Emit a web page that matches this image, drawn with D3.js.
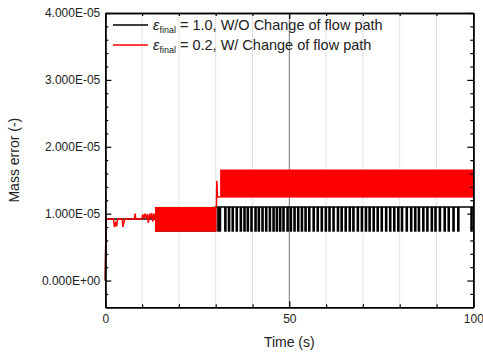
<!DOCTYPE html>
<html>
<head>
<meta charset="utf-8">
<script src="https://cdn.jsdelivr.net/npm/d3@7"></script>
<style>
  body { margin: 0; background: #fff; }
  svg text { font-family: "Liberation Sans", Arial, sans-serif; fill: #222; }
</style>
</head>
<body>
<svg id="chart" width="483" height="356"></svg>
<script>
// values in units of 1e-5
var redT   = [0, 0.2, 0.4, 2.2, 2.5, 2.8, 3.1, 3.3, 4.6, 4.8, 5.0, 5.3, 7.9, 8.1, 8.3, 9.9, 10.2, 10.5, 10.8, 11.1, 11.4, 11.7, 12.0, 12.3, 12.6, 12.9, 13.2, 13.5];
var redV   = [0, 0.93, 0.92, 0.92, 0.80, 0.86, 0.81, 0.92, 0.92, 0.80, 0.86, 0.92, 0.92, 1.00, 0.92, 0.92, 0.99, 0.93, 1.00, 0.94, 0.99, 0.86, 1.00, 0.93, 1.01, 0.88, 1.00, 0.92];
var redSpikeT = [30.2, 30.3, 30.5, 31.2];
var redSpikeV = [1.10, 1.49, 1.25, 1.25];
// dense oscillation bands: start, end, low, high
var redBandT0 = [13.5, 31.2];
var redBandT1 = [30.2, 100];
var redBandLo = [0.73, 1.24];
var redBandHi = [1.10, 1.66];

var blackT = [0, 0.2, 13.5, 30.3, 100];
var blackV = [0, 0.92, 0.92, 1.10, 1.10];
var blackBandT0 = [13.5, 30.4];
var blackBandT1 = [30.2, 31.5];
var blackBandLo = [0.73, 0.73];
var blackBandHi = [1.10, 1.10];
// times where the black curve drops to its lower level
var blackDips = [32.6, 33.6, 34.6, 35.7, 36.8, 37.8, 38.7, 39.7, 40.8, 41.7, 42.7, 43.7, 44.7, 45.7,
  46.6, 47.5, 48.4, 49.5, 50.4, 51.4, 52.4, 53.4, 54.4, 55.4, 56.6, 57.7, 58.8, 59.9, 60.9, 62.0,
  63.2, 64.2, 65.3, 66.4, 67.4, 68.6, 69.7, 70.8, 71.8, 72.9, 74.0, 75.1, 76.3, 77.4, 78.5, 79.6,
  80.6, 81.9, 83.1, 84.2, 85.2, 86.4, 87.5, 88.7, 89.7, 90.9, 92.2, 93.3, 94.6, 95.9, 99.5];
var blackDipLo = 0.73, blackDipHi = 1.10;

var xMajor = [0, 50, 100];
var xMinor = [10, 20, 30, 40, 60, 70, 80, 90];
var yMajor = [0, 1, 2, 3, 4];
var yTickLabels = ["0.000E+00", "1.000E-05", "2.000E-05", "3.000E-05", "4.000E-05"];
var yMinor = [-0.2, 0.2, 0.4, 0.6, 0.8, 1.2, 1.4, 1.6, 1.8, 2.2, 2.4, 2.6, 2.8, 3.2, 3.4, 3.6, 3.8];

var legendLabels = [
  {color: "#000", value: "1.0", text: ", W/O Change of flow path"},
  {color: "#ff0000", value: "0.2", text: ", W/ Change of flow path"}
];

(function () {
  var svg = d3.select("#chart"),
      pl = 105.3, pr = 473.3, pt = 13, pb = 307.3;

  var x = d3.scaleLinear().domain([0, 100]).range([pl, pr]);
  var y = d3.scaleLinear().domain([-0.4, 4.0]).range([pb, pt]);

  // grid
  svg.append("g").selectAll("line")
    .data(xMinor.concat([50]))
    .enter().append("line")
    .attr("x1", function(d){ return x(d); })
    .attr("x2", function(d){ return x(d); })
    .attr("y1", pt).attr("y2", pb)
    .attr("stroke", function(d){ return d === 50 ? "#777" : "#c8c8c8"; })
    .attr("stroke-width", 1)
    .attr("stroke-dasharray", function(d){ return d === 50 ? null : "1,1"; });

  var line = d3.line().x(function(d){ return x(d[0]); }).y(function(d){ return y(d[1]); });

  function drawSeries(color, ts, vs, b0, b1, lo, hi) {
    var g = svg.append("g");
    b0.forEach(function(t0, i) {
      g.append("rect")
        .attr("x", x(t0)).attr("width", x(b1[i]) - x(t0))
        .attr("y", y(hi[i])).attr("height", y(lo[i]) - y(hi[i]))
        .attr("fill", color);
    });
    g.append("path")
      .datum(d3.zip(ts, vs))
      .attr("d", line)
      .attr("fill", "none")
      .attr("stroke", color)
      .attr("stroke-width", 1.5);
    return g;
  }

  var gBlack = drawSeries("#000", blackT, blackV, blackBandT0, blackBandT1, blackBandLo, blackBandHi);
  gBlack.selectAll("rect.dip")
    .data(blackDips)
    .enter().append("rect")
    .attr("class", "dip")
    .attr("x", function(d){ return x(d) - 1.2; })
    .attr("width", 2.6)
    .attr("y", y(blackDipHi))
    .attr("height", y(blackDipLo) - y(blackDipHi))
    .attr("fill", "#000");

  var gRed = drawSeries("#ff0000", redT, redV, redBandT0, redBandT1, redBandLo, redBandHi);
  gRed.append("path")
    .datum(d3.zip(redSpikeT, redSpikeV))
    .attr("d", line)
    .attr("fill", "none")
    .attr("stroke", "#ff0000")
    .attr("stroke-width", 1.5);

  // axes
  function styleAxis(g) {
    g.select(".domain").attr("stroke", "#000").attr("stroke-width", 1.5);
    g.selectAll(".tick line").attr("stroke", "#000").attr("stroke-width", 1.2);
    g.selectAll("text").attr("font-size", "12px").attr("fill", "#222");
  }

  svg.append("g").attr("transform", "translate(0," + pb + ")")
    .call(d3.axisBottom(x).tickValues(xMajor).tickSizeInner(-6).tickSizeOuter(0).tickPadding(7)
          .tickFormat(d3.format("d")))
    .call(styleAxis);
  svg.append("g").attr("transform", "translate(0," + pb + ")")
    .call(d3.axisBottom(x).tickValues(xMinor).tickSizeInner(-3).tickSizeOuter(0).tickFormat(""))
    .call(styleAxis);
  svg.append("g").attr("transform", "translate(0," + pt + ")")
    .call(d3.axisTop(x).tickValues(xMajor).tickSizeInner(-6).tickSizeOuter(0).tickFormat(""))
    .call(styleAxis);
  svg.append("g").attr("transform", "translate(0," + pt + ")")
    .call(d3.axisTop(x).tickValues(xMinor).tickSizeInner(-3).tickSizeOuter(0).tickFormat(""))
    .call(styleAxis);

  svg.append("g").attr("transform", "translate(" + pl + ",0)")
    .call(d3.axisLeft(y).tickValues(yMajor).tickSizeInner(-6).tickSizeOuter(0).tickPadding(5)
          .tickFormat(function(d, i){ return yTickLabels[i]; }))
    .call(styleAxis);
  svg.append("g").attr("transform", "translate(" + pl + ",0)")
    .call(d3.axisLeft(y).tickValues(yMinor).tickSizeInner(-3).tickSizeOuter(0).tickFormat(""))
    .call(styleAxis);
  svg.append("g").attr("transform", "translate(" + pr + ",0)")
    .call(d3.axisRight(y).tickValues(yMajor).tickSizeInner(-6).tickSizeOuter(0).tickFormat(""))
    .call(styleAxis);
  svg.append("g").attr("transform", "translate(" + pr + ",0)")
    .call(d3.axisRight(y).tickValues(yMinor).tickSizeInner(-3).tickSizeOuter(0).tickFormat(""))
    .call(styleAxis);

  // axis titles
  svg.append("text")
    .attr("x", (pl + pr) / 2).attr("y", 347)
    .attr("text-anchor", "middle").attr("font-size", "14px")
    .text("Time (s)");
  svg.append("text")
    .attr("transform", "translate(19," + ((pt + pb) / 2) + ") rotate(-90)")
    .attr("text-anchor", "middle").attr("font-size", "14px")
    .text("Mass error (-)");

  // legend
  var leg = svg.append("g").selectAll("g")
    .data(legendLabels)
    .enter().append("g")
    .attr("transform", function(d, i){ return "translate(113," + (25 + i * 20) + ")"; });
  leg.append("line")
    .attr("x1", 0).attr("x2", 35)
    .attr("stroke", function(d){ return d.color; })
    .attr("stroke-width", 1.5);
  var lt = leg.append("text")
    .attr("x", 40).attr("y", 5)
    .attr("font-size", "14.5px");
  lt.append("tspan").attr("font-style", "italic").text("\u03b5");
  lt.append("tspan").attr("font-size", "9px").attr("dy", 3).text("final");
  lt.append("tspan").attr("dy", -3).text(function(d){ return " = " + d.value + d.text; });
})();
</script>
</body>
</html>
